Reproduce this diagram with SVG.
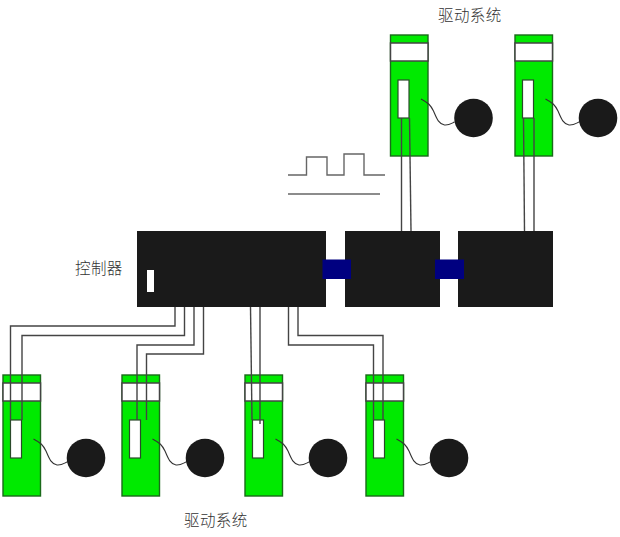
<svg xmlns="http://www.w3.org/2000/svg" xmlns:xlink="http://www.w3.org/1999/xlink" width="620" height="537" viewBox="0 0 620 537">
<style>
text{font-family:"Noto Sans CJK SC","Liberation Sans",sans-serif;font-size:15.5px;font-weight:300;fill:#333;letter-spacing:.4px}
.body{fill:#00ea00;stroke:#1a6a1a;stroke-width:1.4}
.band{fill:#fff;stroke:#444;stroke-width:1.5}
.slot{fill:#fff;stroke:#2a4a2a;stroke-width:1.2}
.motor{fill:#1a1a1a}
.squig{fill:none;stroke:#333;stroke-width:1.1}
.block{fill:#1a1a1a}
.link{fill:#000080}
.wire{fill:none;stroke:#444;stroke-width:1.4}
.sig{fill:none;stroke:#666;stroke-width:1.4}
</style>
<defs>
<g id="drive">
<rect class="body" x="0" y="0" width="37.5" height="121"/>
<rect class="band" x="0" y="8" width="37.5" height="18"/>
<rect class="slot" x="7.5" y="45" width="11" height="38"/>
<path class="squig" d="M30.5 64C38 68 40 70 43 76C46 83 48 89 54 90C58 90.500 60 89 64 87"/>
<circle class="motor" cx="83" cy="83" r="19.300"/>
</g>
</defs>
<g id="drive-top-1"><use xlink:href="#drive" x="390.500" y="35"/></g>
<g id="drive-top-2"><use xlink:href="#drive" x="515" y="35"/></g>
<g id="drive-bottom-1"><use xlink:href="#drive" x="3" y="375"/></g>
<g id="drive-bottom-2"><use xlink:href="#drive" x="122" y="375"/></g>
<g id="drive-bottom-3"><use xlink:href="#drive" x="245" y="375"/></g>
<g id="drive-bottom-4"><use xlink:href="#drive" x="366" y="375"/></g>
<g id="controller">
<rect class="block" x="137" y="231" width="189" height="76"/>
<rect x="147" y="270" width="7" height="22" fill="#fff"/>
</g>
<g id="module-1"><rect class="block" x="345" y="231" width="95" height="76"/></g>
<g id="module-2"><rect class="block" x="458" y="231" width="95" height="76"/></g>
<g id="link-1"><rect class="link" x="322.500" y="259.500" width="28.500" height="19.500"/></g>
<g id="link-2"><rect class="link" x="435" y="259.500" width="29" height="19.500"/></g>
<g id="connectors">
<path class="wire" d="M401.500 118V231"/>
<path class="wire" d="M409.500 118L411 231"/>
<path class="wire" d="M523.500 118L524.500 231"/>
<path class="wire" d="M534 118V231"/>
<path class="wire" d="M175 307V326H10.500V420"/>
<path class="wire" d="M184.500 307V335.500H22V420"/>
<path class="wire" d="M194 307V345H137V420"/>
<path class="wire" d="M203.500 307V354H146.500V420"/>
<path class="wire" d="M250.500 307L252 420"/>
<path class="wire" d="M260 307V424"/>
<path class="wire" d="M288.500 307V345H373.500V420"/>
<path class="wire" d="M298 307V335.500H383V420"/>
</g>
<g id="signal">
<path class="sig" d="M288 175H306.500V157H327V175H344V154H364V175H385"/>
<path class="sig" d="M288 194H380"/>
</g>
<text x="438" y="21">驱动系统</text>
<text x="75" y="274">控制器</text>
<text x="184" y="526">驱动系统</text>
</svg>
